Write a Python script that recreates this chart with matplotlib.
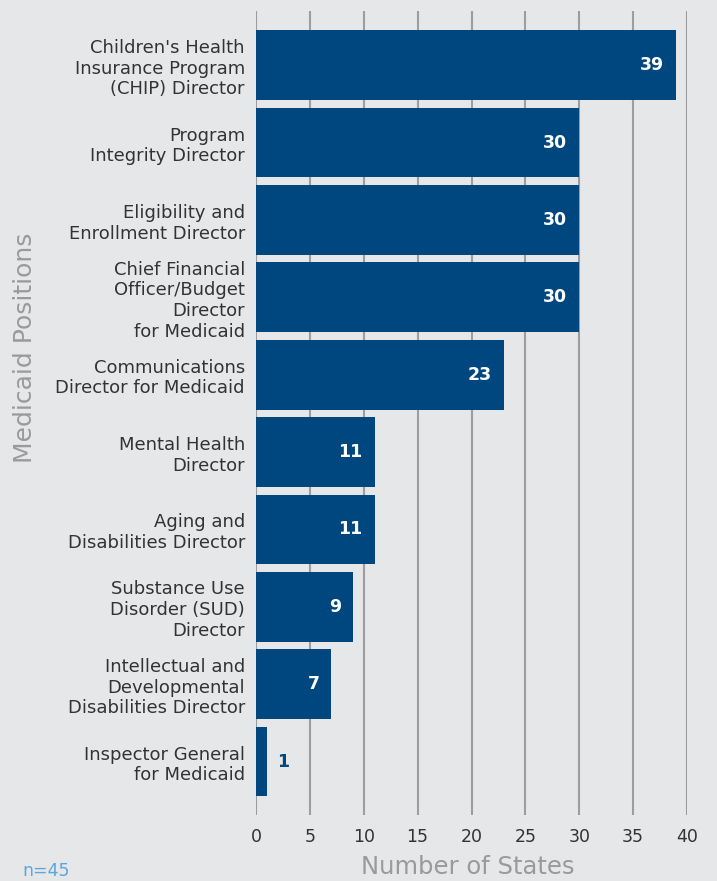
import matplotlib
matplotlib.use("Agg")
import matplotlib.pyplot as plt

positions = [
    "Children's Health\nInsurance Program\n(CHIP) Director",
    "Program\nIntegrity Director",
    "Eligibility and\nEnrollment Director",
    "Chief Financial\nOfficer/Budget\nDirector\nfor Medicaid",
    "Communications\nDirector for Medicaid",
    "Mental Health\nDirector",
    "Aging and\nDisabilities Director",
    "Substance Use\nDisorder (SUD)\nDirector",
    "Intellectual and\nDevelopmental\nDisabilities Director",
    "Inspector General\nfor Medicaid",
]
states = [39, 30, 30, 30, 23, 11, 11, 9, 7, 1]
x_ticks = [0, 5, 10, 15, 20, 25, 30, 35, 40]

BG = "#e6e7e9"
BAR = "#00477f"
GRID = "#9d9d9f"
TEXT = "#333333"
LABEL = "#9a9a9a"

plt.rcParams["font.family"] = ["DejaVu Sans"]

fig = plt.figure(figsize=(7.17, 8.81), dpi=100, facecolor=BG)
ax = fig.add_axes([256 / 717, 1 - 815 / 881, (687 - 256) / 717, (815 - 11) / 881])
ax.set_facecolor(BG)

ypos = list(range(len(positions)))
ax.barh(ypos, states, height=0.9, color=BAR, zorder=3)

ax.set_xlim(0, 40)
ax.set_ylim(9.69, -0.70)
ax.set_xticks(x_ticks)
ax.set_xticklabels([str(t) for t in x_ticks], fontsize=12.5, color=TEXT)
ax.set_yticks(ypos)
ax.set_yticklabels(positions, fontsize=13, color=TEXT, linespacing=1.2)
ax.tick_params(axis="both", length=0)
ax.tick_params(axis="x", pad=9)
ax.tick_params(axis="y", pad=8)
ax.grid(axis="x", color=GRID, linewidth=1.5, zorder=0)
for s in ax.spines.values():
    s.set_visible(False)

for y, v in zip(ypos, states):
    if v >= 5:
        ax.text(v - 1.1, y, str(v), ha="right", va="center", color="white",
                fontsize=12.5, fontweight="bold", zorder=4)
    else:
        ax.text(v + 1.0, y, str(v), ha="left", va="center", color=BAR,
                fontsize=12.5, fontweight="bold", zorder=4)

fig.text(468 / 717, 1 - 867 / 881, "Number of States", ha="center", va="center",
         fontsize=17.5, color=LABEL)
fig.text(25 / 717, 1 - 348 / 881, "Medicaid Positions", ha="center", va="center",
         rotation=90, fontsize=18, color=LABEL)
fig.text(22 / 717, 1 - 871 / 881, "n=45", ha="left", va="center",
         fontsize=12.5, color="#5aa7e0")

fig.savefig("out.png", dpi=100, facecolor=BG)
